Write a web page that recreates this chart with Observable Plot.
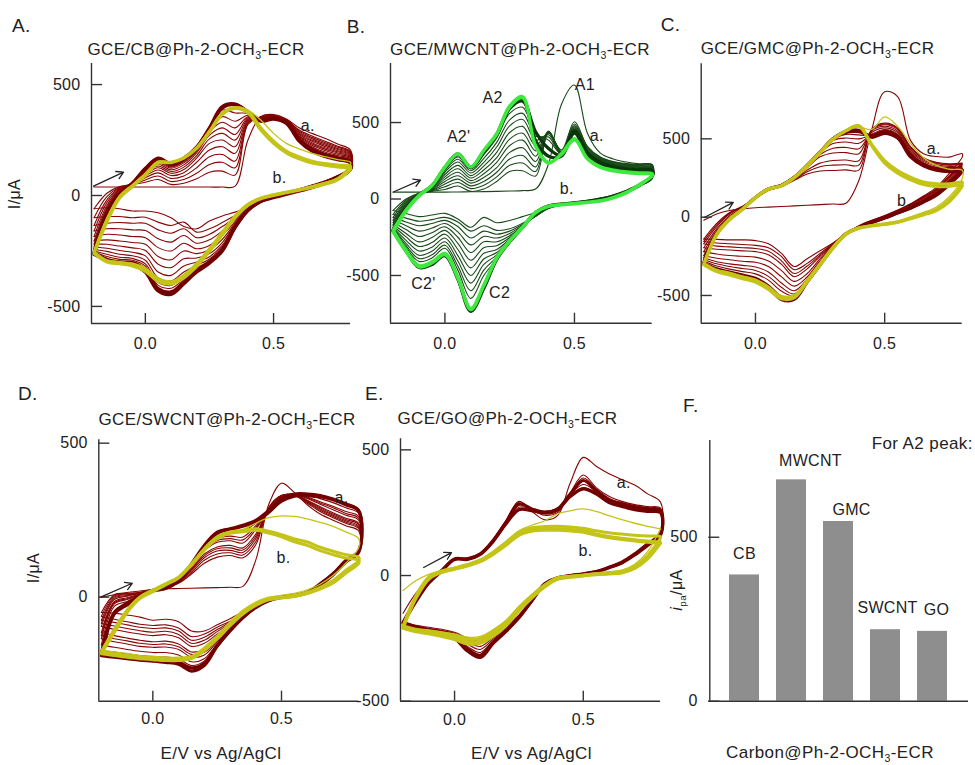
<!DOCTYPE html>
<html><head><meta charset="utf-8">
<script src="https://cdn.jsdelivr.net/npm/d3@7"></script>
<script src="https://cdn.jsdelivr.net/npm/@observablehq/plot@0.6"></script>
<style>
body{margin:0;background:#fff;}
#fig{position:relative;width:975px;height:765px;overflow:hidden;background:#fff;font-family:"Liberation Sans",Arial,Helvetica,sans-serif;color:#222;}
#fig svg{position:absolute;left:0;top:0;}
.t{position:absolute;white-space:nowrap;line-height:1;letter-spacing:0.4px;}
.s{font-size:0.62em;position:relative;top:0.38em;}
</style></head><body><div id="fig"></div>
<script>
// ---------- shared potential grid (V vs Ag/AgCl) ----------
const E = [-0.2,-0.15,-0.1,-0.05,0,0.05,0.1,0.15,0.2,0.25,0.3,0.35,0.4,0.45,0.5,0.55,0.6,0.65,0.7,0.75,0.8];
const X_TICKS = [0, 0.5];

// ---------- Panel A: GCE/CB ----------
const A_first_fwd = [[38,38,38,38,38,38,38,38,38,38,38,42,250,355,365,345,305,280,258,232,205]];
const A_first_rev = [[-60,-55,-60,-70,-70,-78,-100,-140,-150,-115,-92,-75,-52,-30,-15,0,15,30,50,75,110]];
const A_mid_fwd = [
 [-60,10,40,50,60,72,50,55,75,105,110,92,320,355,362,342,295,268,245,222,198],
 [-100,-5,37,51,70,88,63,72,100,140,150,125,325,354,361,341,290,262,239,217,194],
 [-135,-20,34,52,80,102,77,88,125,175,185,155,330,352,360,340,285,256,233,212,190],
 [-160,-32,31,52,88,115,90,103,150,205,220,190,335,350,358,339,280,250,227,207,186],
 [-185,-45,28,52,95,125,100,117,168,235,250,220,340,349,357,338,275,244,221,202,182],
 [-205,-55,25,52,100,133,108,128,180,255,280,250,345,347,355,336,270,238,215,197,178],
 [-220,-62,22,52,105,141,116,138,192,272,305,275,350,346,354,335,266,232,209,192,174],
 [-232,-68,19,51,110,148,123,147,200,287,330,305,355,344,353,334,262,226,203,186,170],
 [-242,-72,16,51,113,153,128,153,206,296,355,335,362,343,351,333,259,220,196,180,165],
 [-250,-76,14,50,116,157,132,157,211,302,385,372,370,342,350,332,256,215,190,175,160]];
const A_mid_rev = [
 [-100,-95,-95,-100,-98,-120,-135,-120,-165,-150,-122,-90,-57,-28,-10,5,20,35,53,78,113],
 [-135,-125,-122,-125,-125,-155,-170,-150,-190,-175,-140,-100,-59,-28,-10,5,20,35,53,78,113],
 [-160,-150,-150,-155,-158,-195,-210,-180,-215,-200,-160,-110,-60,-27,-9,6,21,36,54,79,114],
 [-185,-175,-178,-185,-190,-235,-250,-215,-240,-225,-180,-118,-61,-27,-9,6,21,36,54,79,114],
 [-205,-200,-205,-212,-220,-275,-290,-250,-262,-245,-198,-125,-62,-26,-8,7,22,37,55,80,115],
 [-220,-220,-228,-236,-248,-310,-325,-285,-282,-262,-212,-130,-63,-26,-8,7,22,37,55,80,115],
 [-232,-238,-248,-256,-272,-345,-360,-318,-300,-276,-224,-134,-64,-26,-7,8,23,38,56,81,116],
 [-242,-252,-265,-272,-292,-372,-385,-345,-315,-286,-232,-136,-64,-25,-6,9,24,39,57,82,117],
 [-250,-265,-278,-284,-308,-392,-405,-365,-327,-293,-237,-138,-65,-25,-6,9,24,40,58,83,118],
 [-255,-275,-288,-292,-318,-405,-418,-378,-335,-298,-240,-139,-65,-25,-5,10,25,42,60,85,120]];
const A_last_fwd = [
 [-258,-80,10,55,120,165,140,165,215,300,395,410,378,340,348,330,250,208,183,168,153],
 [-265,-90,5,55,122,168,143,168,218,305,400,412,375,335,345,325,245,200,176,162,147]];
const A_last_rev = [
 [-258,-288,-300,-303,-335,-420,-435,-390,-340,-300,-245,-140,-65,-25,-5,10,25,42,60,85,120],
 [-265,-292,-305,-310,-345,-430,-445,-398,-345,-305,-250,-145,-68,-27,-6,9,24,41,59,84,118]];
const A_yel_fwd = [
 [-255,-110,-5,45,95,150,150,170,215,290,370,395,380,305,245,200,174,155,144,137,132],
 [-262,-120,-12,40,90,145,148,168,212,285,365,392,372,295,235,192,165,146,136,128,122]];
const A_yel_rev = [
 [-258,-295,-303,-310,-333,-378,-393,-363,-310,-243,-168,-93,-40,-12,3,15,27,40,55,75,125],
 [-262,-300,-308,-318,-342,-388,-400,-372,-320,-252,-178,-100,-45,-15,0,12,24,36,50,70,118]];
const A_yelthin_fwd = [[-250,-100,0,50,100,155,152,172,218,295,375,400,385,340,280,235,210,190,175,162,150]];
const A_yelthin_rev = [[-250,-290,-298,-305,-325,-370,-385,-355,-302,-235,-160,-88,-35,-8,6,18,30,43,58,80,140]];
const A_notes = [{E:0.633,I:315,t:"a."},{E:0.523,I:81,t:"b."}];
const A_arrow = [{E1:-0.202,I1:42,E2:-0.085,I2:105}];

// ---------- Panel B: GCE/MWCNT ----------
const B_first_fwd = [[45,45,45,45,45,46,47,48,50,52,55,65,230,620,745,430,300,262,242,230,225]];
const B_first_rev = [[-75,-95,-115,-105,-94,-130,-185,-120,-155,-140,-115,-90,-60,-40,-30,-20,-5,15,45,85,135]];
const B_mid_fwd = [
 [-75,0,38,50,62,85,50,65,115,180,185,150,430,320,505,345,275,245,232,226,224],
 [-100,-8,37,53,80,108,68,90,145,220,235,180,435,312,490,340,271,241,228,222,220],
 [-120,-15,35,56,98,130,86,115,175,262,285,210,440,306,480,334,267,237,224,218,216],
 [-138,-22,34,59,115,152,104,140,205,305,335,245,443,300,472,328,263,233,220,214,212],
 [-152,-28,33,62,130,175,120,165,240,350,385,280,445,297,465,322,259,229,216,210,208],
 [-165,-34,31,66,145,198,137,190,270,392,430,315,440,294,458,317,255,225,212,206,204],
 [-175,-40,30,70,160,220,153,215,305,435,475,350,432,292,452,312,251,222,209,203,201],
 [-185,-46,29,74,175,242,170,240,340,478,520,385,420,292,447,308,248,219,206,200,198],
 [-192,-52,28,78,188,260,185,265,370,518,560,410,405,293,443,305,246,216,203,197,195],
 [-198,-58,27,82,198,275,197,290,400,560,600,425,385,295,440,302,244,214,201,195,193]];
const B_mid_rev = [
 [-100,-125,-145,-135,-120,-150,-210,-175,-205,-195,-158,-112,-62,-40,-30,-20,-5,15,45,85,135],
 [-120,-150,-175,-160,-140,-180,-255,-210,-230,-210,-165,-114,-60,-39,-29,-19,-4,16,46,86,136],
 [-138,-175,-210,-190,-160,-215,-300,-245,-255,-225,-170,-112,-58,-38,-29,-19,-4,16,46,86,137],
 [-152,-200,-245,-220,-182,-250,-350,-280,-280,-240,-175,-110,-56,-37,-28,-18,-3,17,47,87,138],
 [-165,-225,-280,-252,-205,-290,-400,-318,-305,-252,-178,-106,-54,-36,-27,-17,-3,17,47,87,139],
 [-175,-248,-310,-285,-230,-330,-450,-355,-330,-262,-180,-102,-52,-35,-27,-17,-2,18,48,88,140],
 [-185,-270,-340,-315,-255,-370,-500,-392,-350,-268,-181,-98,-50,-35,-26,-16,-2,18,48,88,141],
 [-192,-290,-368,-342,-280,-405,-550,-428,-365,-272,-182,-94,-48,-34,-26,-16,-1,19,49,89,142],
 [-198,-305,-390,-365,-302,-438,-600,-465,-380,-275,-182,-91,-46,-34,-25,-15,-1,19,49,89,144],
 [-203,-318,-408,-385,-322,-465,-650,-500,-392,-277,-181,-88,-45,-33,-25,-15,0,20,50,90,146]];
const B_dark_fwd = [
 [-203,-62,26,85,205,290,205,305,420,590,640,440,330,285,445,300,240,210,196,190,188],
 [-205,-66,26,87,208,295,208,312,425,600,655,380,280,280,430,290,232,203,190,184,182]];
const B_dark_rev = [
 [-205,-335,-440,-420,-362,-515,-725,-575,-388,-275,-183,-88,-45,-33,-25,-15,0,20,50,90,150],
 [-210,-340,-448,-428,-370,-525,-735,-585,-395,-280,-186,-90,-47,-34,-26,-16,-1,19,49,88,148]];
const B_lime_fwd = [
 [-203,-70,25,90,211,298,211,320,429,610,670,342,233,298,396,266,211,190,179,172,168],
 [-215,-80,18,85,205,292,208,315,422,600,660,350,240,290,385,260,205,183,172,165,160]];
const B_lime_rev = [
 [-203,-333,-435,-410,-355,-510,-715,-560,-380,-270,-180,-85,-45,-35,-28,-20,-10,12,45,95,155],
 [-215,-345,-445,-420,-365,-520,-725,-570,-390,-278,-188,-92,-50,-40,-32,-24,-14,6,38,88,150]];
const B_notes = [{E:0.54,I:745,t:"A1"},{E:0.184,I:660,t:"A2"},{E:0.053,I:405,t:"A2'"},{E:0.586,I:412,t:"a."},
 {E:0.47,I:65,t:"b."},{E:-0.083,I:-556,t:"C2'"},{E:0.211,I:-614,t:"C2"}];
const B_arrow = [{E1:-0.199,I1:46,E2:-0.094,I2:124}];

// ---------- Panel C: GCE/GMC ----------
const C_first_fwd = [[-20,20,43,53,60,64,68,72,76,80,84,89,234,560,800,770,490,405,387,383,405]];
const C_first_rev = [[-140,-142,-145,-145,-150,-170,-230,-315,-265,-215,-165,-106,-55,-20,10,45,85,135,190,280,383]];
const C_mid_fwd = [
 [-140,-40,30,70,120,170,195,235,275,295,298,302,300,560,600,570,450,380,350,340,345],
 [-155,-50,25,67,120,171,196,238,290,322,332,335,332,558,595,565,445,376,346,336,341],
 [-170,-60,20,65,120,172,198,240,300,345,362,365,360,555,590,560,440,372,342,332,337],
 [-195,-75,10,60,122,175,200,245,315,385,410,412,405,550,580,550,430,364,334,324,330],
 [-220,-85,0,58,124,177,201,250,322,400,440,445,437,540,570,540,420,356,326,316,322],
 [-245,-95,-5,56,125,178,202,252,326,410,470,480,472,530,560,530,410,348,318,308,315],
 [-258,-98,-7,55,126,179,202,253,327,412,490,505,500,525,555,525,405,344,314,304,311],
 [-270,-100,-8,55,126,179,202,253,328,413,500,528,525,520,550,520,400,340,310,300,308]];
const C_mid_rev = [
 [-155,-165,-170,-175,-180,-195,-250,-335,-295,-232,-168,-108,-58,-22,8,42,82,130,180,265,345],
 [-170,-185,-190,-195,-200,-218,-278,-360,-312,-242,-172,-108,-59,-23,7,41,80,128,176,258,341],
 [-195,-205,-210,-215,-220,-240,-300,-380,-330,-250,-175,-108,-60,-24,6,40,78,125,172,250,337],
 [-220,-235,-245,-250,-255,-280,-340,-410,-360,-265,-180,-108,-62,-26,4,37,74,120,165,240,330],
 [-245,-262,-272,-282,-288,-315,-380,-440,-382,-278,-184,-108,-64,-28,2,34,70,115,160,232,322],
 [-258,-285,-298,-308,-318,-350,-420,-470,-395,-288,-187,-107,-65,-30,0,32,66,110,155,225,315],
 [-270,-298,-315,-328,-340,-378,-448,-490,-402,-292,-189,-106,-66,-31,-1,31,64,107,152,222,311],
 [-282,-312,-332,-348,-362,-402,-472,-502,-406,-296,-190,-106,-66,-32,-2,30,62,105,150,220,308]];
const C_last_fwd = [
 [-290,-105,-10,54,126,180,202,254,330,415,500,540,545,520,545,515,395,335,305,296,302],
 [-296,-108,-12,52,125,180,202,254,330,415,500,548,555,510,535,505,385,328,300,290,296]];
const C_last_rev = [
 [-295,-330,-350,-370,-390,-440,-510,-515,-410,-300,-192,-106,-67,-34,-4,28,60,100,145,215,300],
 [-300,-338,-358,-380,-402,-452,-525,-525,-415,-305,-195,-107,-68,-35,-6,26,57,96,140,208,292]];
const C_yel_fwd = [
 [-298,-106,-11,53,128,181,202,255,330,415,500,553,585,465,362,298,255,224,213,213,224],
 [-305,-115,-18,48,122,176,198,250,324,410,495,550,580,455,345,280,238,208,196,196,205]];
const C_yel_rev = [
 [-298,-340,-360,-383,-404,-450,-511,-505,-405,-298,-192,-106,-68,-53,-43,-30,-5,20,50,110,213],
 [-305,-348,-370,-393,-415,-462,-522,-515,-415,-308,-200,-112,-72,-57,-47,-34,-10,14,42,98,198]];
const C_yelthin_fwd = [[-290,-100,-5,58,132,185,205,258,333,418,503,555,575,560,640,580,470,380,330,305,300]];
const C_yelthin_rev = [[-290,-333,-352,-375,-396,-440,-500,-495,-395,-290,-185,-100,-64,-49,-38,-24,2,30,65,130,245]];
const C_notes = [{E:0.69,I:439,t:"a."},{E:0.575,I:107,t:"b."}];
const C_arrow = [{E1:-0.198,I1:-2,E2:-0.086,I2:94}];

// ---------- Panel D: GCE/SWCNT ----------
const D_first_fwd = [[0,8,15,20,25,27,28,29,30,31,32,35,120,300,370,340,300,270,250,232,215]];
const D_first_rev = [[-50,-52,-58,-65,-75,-72,-80,-110,-110,-90,-70,-48,-28,-11,0,5,16,43,76,119,150]];
const D_mid_fwd = [
 [-50,8,12,16,24,32,45,75,110,130,135,128,170,290,330,330,305,278,258,240,222],
 [-62,4,10,15,24,32,48,80,120,140,144,137,180,290,330,331,308,282,262,244,226],
 [-75,0,8,14,24,33,50,85,128,150,152,145,190,290,330,332,310,286,266,248,230],
 [-85,-4,5,13,23,34,51,89,134,157,160,153,198,288,329,333,313,290,270,252,235],
 [-95,-8,3,12,23,34,52,92,140,163,168,160,205,285,328,334,315,294,274,256,240],
 [-115,-15,-2,10,22,34,53,98,150,178,183,176,220,282,325,335,320,302,284,266,250],
 [-125,-19,-5,9,22,34,54,100,154,184,190,186,226,281,323,335,323,306,290,272,256],
 [-135,-22,-8,8,22,34,54,102,157,190,198,195,232,280,322,335,325,310,295,278,262],
 [-155,-30,-14,5,22,32,54,105,162,200,210,215,240,280,320,335,330,320,307,290,272]];
const D_mid_rev = [
 [-62,-72,-80,-88,-92,-90,-100,-128,-120,-98,-78,-54,-30,-11,0,5,16,43,76,119,151],
 [-75,-82,-90,-98,-102,-100,-110,-140,-130,-105,-82,-56,-30,-11,0,5,16,43,76,119,151],
 [-85,-94,-102,-109,-114,-111,-121,-150,-140,-112,-86,-58,-31,-11,0,5,16,43,76,119,151],
 [-95,-105,-113,-120,-125,-122,-132,-160,-150,-120,-90,-60,-31,-11,0,5,16,43,76,119,151],
 [-115,-125,-133,-140,-145,-143,-152,-178,-170,-135,-97,-62,-32,-11,0,5,16,43,76,119,151],
 [-125,-135,-142,-150,-154,-152,-161,-186,-179,-140,-100,-62,-32,-11,0,5,16,43,76,119,151],
 [-135,-145,-152,-160,-163,-162,-170,-195,-188,-145,-102,-63,-32,-11,0,5,16,43,76,119,151],
 [-155,-163,-170,-176,-180,-180,-188,-210,-200,-152,-105,-64,-32,-11,0,5,16,43,76,119,151],
 [-175,-178,-185,-190,-193,-195,-200,-222,-208,-155,-107,-65,-32,-11,0,5,16,43,76,119,151]];
const D_last_fwd = [
 [-184,-50,-20,2,22,30,54,108,168,211,222,233,249,281,319,335,335,330,319,303,281],
 [-190,-55,-25,0,20,28,52,105,165,208,220,230,245,275,312,328,330,326,316,300,280]];
const D_last_rev = [
 [-184,-189,-195,-200,-203,-206,-211,-230,-215,-157,-108,-65,-32,-11,0,5,16,43,76,119,151],
 [-190,-195,-200,-205,-208,-212,-218,-240,-222,-160,-110,-67,-34,-12,-1,4,14,40,72,114,146]];
const D_yel_fwd = [
 [-178,-108,-43,0,22,43,65,108,157,195,211,216,222,214,203,189,179,162,149,138,130],
 [-184,-115,-50,-5,18,40,62,104,152,190,207,212,217,208,196,180,168,151,138,127,120]];
const D_yel_rev = [
 [-178,-184,-189,-195,-197,-200,-200,-195,-168,-130,-87,-49,-22,-5,0,5,16,32,54,87,119],
 [-184,-190,-195,-200,-203,-206,-206,-200,-174,-136,-93,-55,-27,-9,-3,2,12,26,46,78,110]];
const D_yelthin_fwd = [[-172,-100,-38,4,26,46,68,111,160,198,214,220,240,258,264,262,254,243,230,212,190]];
const D_yelthin_rev = [[-172,-178,-183,-190,-192,-195,-195,-190,-162,-124,-80,-42,-16,0,6,12,24,42,70,110,160]];
const D_notes = [{E:0.733,I:324,t:"a."},{E:0.508,I:129,t:"b."}];
const D_arrow = [{E1:-0.203,I1:0,E2:-0.08,I2:45}];

// ---------- Panel E: GCE/GO ----------
const E_first_fwd = [[-150,-70,-15,22,64,68,84,135,205,285,255,222,238,370,470,435,405,382,360,325,292]];
const E_first_rev = [[-186,-198,-206,-214,-226,-248,-262,-235,-200,-158,-96,-33,-9,0,7,16,33,53,86,126,170]];
const E_mid_fwd = [
 [-186,-90,-22,22,68,70,88,145,220,295,262,240,250,330,400,350,315,295,282,274,268],
 [-186,-94,-24,21,67,69,87,142,216,288,262,245,256,328,388,345,308,290,278,270,264],
 [-186,-97,-26,20,66,67,86,140,213,280,264,250,262,326,375,340,303,286,274,267,261],
 [-186,-99,-27,20,66,66,86,139,211,272,265,253,265,322,362,335,298,282,270,263,258],
 [-186,-102,-29,19,65,65,85,137,208,265,262,255,266,318,350,330,294,278,266,259,254]];
const E_mid_rev = [
 [-186,-200,-210,-218,-230,-255,-270,-240,-205,-160,-97,-33,-9,0,7,16,33,53,86,126,166],
 [-186,-202,-212,-220,-233,-263,-282,-247,-209,-161,-97,-33,-9,0,7,16,33,53,86,126,166],
 [-186,-203,-214,-223,-237,-272,-294,-253,-212,-162,-98,-33,-9,0,7,16,33,53,86,126,166],
 [-186,-204,-216,-226,-241,-282,-306,-259,-216,-164,-98,-33,-9,0,7,16,33,53,86,126,166],
 [-186,-205,-218,-228,-244,-288,-313,-262,-218,-165,-99,-33,-9,0,7,16,33,53,86,126,166]];
const E_last_fwd = [
 [-186,-99,-27,20,66,66,86,139,212,285,265,252,265,325,378,338,301,285,272,265,259],
 [-190,-104,-30,18,64,64,84,136,206,262,258,250,262,315,345,325,290,275,262,255,250]];
const E_last_rev = [
 [-186,-205,-219,-229,-245,-292,-318,-265,-219,-165,-99,-33,-9,0,7,16,33,53,86,126,166],
 [-190,-208,-222,-232,-250,-300,-326,-270,-222,-168,-101,-35,-10,-1,6,15,31,50,82,120,160]];
const E_yel_fwd = [
 [-205,-86,-10,15,27,40,58,88,126,166,183,187,186,183,179,165,155,148,142,137,133],
 [-210,-92,-15,12,25,38,55,84,120,160,176,180,180,177,172,160,150,143,137,132,128],
 [-200,-80,-5,18,30,44,62,93,132,172,190,195,196,193,188,178,170,165,160,157,155]];
const E_yel_rev = [
 [-205,-219,-225,-235,-245,-262,-260,-232,-192,-135,-85,-42,-12,-5,0,5,8,13,33,73,133],
 [-210,-224,-232,-243,-255,-272,-270,-242,-200,-142,-90,-46,-15,-7,-2,3,6,10,28,66,128],
 [-200,-214,-220,-228,-238,-252,-250,-222,-184,-128,-80,-38,-9,-3,2,7,11,17,38,80,150]];
const E_yelthin_fwd = [[-60,-20,5,20,32,46,64,96,136,178,200,218,245,258,265,255,238,222,208,196,186]];
const E_yelthin_rev = [[-200,-212,-218,-225,-232,-245,-242,-215,-178,-122,-75,-35,-6,0,5,10,15,22,45,95,186]];
const E_notes = [{E:0.657,I:370,t:"a."},{E:0.509,I:99,t:"b."}];
const E_arrow = [{E1:-0.12,I1:32,E2:-0.012,I2:91}];

// ---------- Panel F: A2 peak currents ----------
const F_cats = ["CB","MWCNT","GMC","SWCNT","GO"];
const F_vals = [385, 675, 548, 218, 213];

// ---------- drawing ----------
const FONT = '"Liberation Sans", Arial, Helvetica, sans-serif';
const RED = "#870505", RED_D = "#720000", YEL = "#c4c418", DKG = "#184a18", DKG_D = "#0a360a", LIME = "#3ee83e", AX = "#333";
const X_DOMAIN = [-0.21, 0.8];
const fig = document.getElementById("fig");

function loops(fwd, rev, tag) {
  const rows = [];
  fwd.forEach((f, c) => {
    const r = rev[c];
    f.forEach((v, i) => rows.push({E: E[i], I: v, id: tag + c}));
    for (let i = r.length - 1; i >= 0; i--) rows.push({E: E[i], I: r[i], id: tag + c});
  });
  return rows;
}
const baseStyle = {background: "transparent", overflow: "visible", fontFamily: FONT, fontSize: "16px", color: "#222", letterSpacing: "0.3px"};

function cv(p) {
  const [l, t, r, b] = p.frame, pw = r - l, ph = b - t;
  const marks = p.layers.map(L => Plot.line(loops(L.fwd, L.rev, L.tag),
    {x: "E", y: "I", z: "id", stroke: L.color, strokeWidth: L.w, curve: "catmull-rom"}));
  marks.push(
    Plot.ruleX([X_DOMAIN[0]], {stroke: AX, strokeWidth: 1.4}),
    Plot.ruleY([p.yDomain[0]], {stroke: AX, strokeWidth: 1.4}),
    Plot.ruleX(X_TICKS, {stroke: AX, strokeWidth: 1.4, insetTop: ph - 10}),
    Plot.ruleY(p.yTicks, {stroke: AX, strokeWidth: 1.4, insetRight: pw - 11}),
    Plot.axisX(X_TICKS, {tickSize: 0, tickPadding: p.xPad, tickFormat: d3.format(".1f"), label: null}),
    Plot.axisY(p.yTicks, {tickSize: 0, tickPadding: 11, tickFormat: d => String(d), label: null}),
    Plot.text(p.notes, {x: "E", y: "I", text: "t", fontSize: 16}),
    Plot.arrow(p.arrow, {x1: "E1", y1: "I1", x2: "E2", y2: "I2", stroke: "#222", strokeWidth: 1.3, headLength: 9})
  );
  return Plot.plot({
    width: 975, height: 765,
    marginLeft: l, marginRight: 975 - r, marginTop: t, marginBottom: 765 - b,
    style: baseStyle,
    x: {domain: X_DOMAIN},
    y: {domain: p.yDomain},
    marks
  });
}

const panels = [
  {frame: [91, 63, 350, 323], yDomain: [-577, 595], yTicks: [-500, 0, 500], xPad: 14, notes: A_notes, arrow: A_arrow,
   layers: [
     {tag: "f", fwd: A_first_fwd, rev: A_first_rev, color: RED, w: 1.1},
     {tag: "m", fwd: A_mid_fwd, rev: A_mid_rev, color: RED, w: 1.1},
     {tag: "l", fwd: A_last_fwd, rev: A_last_rev, color: RED_D, w: 3.4},
     {tag: "y", fwd: A_yel_fwd, rev: A_yel_rev, color: YEL, w: 3},
     {tag: "t", fwd: A_yelthin_fwd, rev: A_yelthin_rev, color: YEL, w: 1.3}]},
  {frame: [390, 63, 651.7, 322.7], yDomain: [-812, 886], yTicks: [-500, 0, 500], xPad: 14, notes: B_notes, arrow: B_arrow,
   layers: [
     {tag: "f", fwd: B_first_fwd, rev: B_first_rev, color: DKG, w: 1.1},
     {tag: "m", fwd: B_mid_fwd, rev: B_mid_rev, color: DKG, w: 1.1},
     {tag: "d", fwd: B_dark_fwd, rev: B_dark_rev, color: DKG_D, w: 3.2},
     {tag: "l", fwd: B_lime_fwd, rev: B_lime_rev, color: LIME, w: 3}]},
  {frame: [700.7, 63.3, 961.7, 322.7], yDomain: [-677, 979], yTicks: [-500, 0, 500], xPad: 14, notes: C_notes, arrow: C_arrow,
   layers: [
     {tag: "f", fwd: C_first_fwd, rev: C_first_rev, color: RED, w: 1.1},
     {tag: "m", fwd: C_mid_fwd, rev: C_mid_rev, color: RED, w: 1.1},
     {tag: "l", fwd: C_last_fwd, rev: C_last_rev, color: RED_D, w: 3.2},
     {tag: "y", fwd: C_yel_fwd, rev: C_yel_rev, color: YEL, w: 3},
     {tag: "t", fwd: C_yelthin_fwd, rev: C_yelthin_rev, color: YEL, w: 1.3}]},
  {frame: [98.3, 439.3, 358.2, 700.7], yDomain: [-338, 511], yTicks: [0, 500], xPad: 11, notes: D_notes, arrow: D_arrow,
   layers: [
     {tag: "f", fwd: D_first_fwd, rev: D_first_rev, color: RED, w: 1.1},
     {tag: "m", fwd: D_mid_fwd, rev: D_mid_rev, color: RED, w: 1.1},
     {tag: "l", fwd: D_last_fwd, rev: D_last_rev, color: RED_D, w: 3.2},
     {tag: "y", fwd: D_yel_fwd, rev: D_yel_rev, color: YEL, w: 3},
     {tag: "t", fwd: D_yelthin_fwd, rev: D_yelthin_rev, color: YEL, w: 1.3}]},
  {frame: [400, 438.3, 660, 700.7], yDomain: [-500, 544], yTicks: [-500, 0, 500], xPad: 12, notes: E_notes, arrow: E_arrow,
   layers: [
     {tag: "f", fwd: E_first_fwd, rev: E_first_rev, color: RED, w: 1.1},
     {tag: "m", fwd: E_mid_fwd, rev: E_mid_rev, color: RED, w: 1.1},
     {tag: "l", fwd: E_last_fwd, rev: E_last_rev, color: RED_D, w: 3.2},
     {tag: "y", fwd: E_yel_fwd, rev: E_yel_rev, color: YEL, w: 3},
     {tag: "t", fwd: E_yelthin_fwd, rev: E_yelthin_rev, color: YEL, w: 1.3}]}
];
panels.forEach(p => fig.appendChild(cv(p)));

// Panel F bar chart
{
  const l = 708.3, t = 440, r = 968, b = 700.7, pw = r - l;
  const rows = F_cats.map((c, i) => ({c, v: F_vals[i]}));
  const labelOffsets = [[0, -21], [19, -19], [13, -12], [2, -22], [4, -21]];
  fig.appendChild(Plot.plot({
    width: 975, height: 765,
    marginLeft: l, marginRight: 975 - r, marginTop: t, marginBottom: 765 - b,
    style: baseStyle,
    x: {domain: F_cats, paddingInner: 0.368, paddingOuter: 0.421, axis: null},
    y: {domain: [0, 795]},
    marks: [
      Plot.barY(rows, {x: "c", y: "v", fill: "#8e8e8e"}),
      ...rows.map((d, i) => Plot.text([d], {x: "c", y: "v", text: "c", dx: labelOffsets[i][0], dy: labelOffsets[i][1], fontSize: 16})),
      Plot.ruleY([0], {stroke: AX, strokeWidth: 1.4}),
      Plot.ruleX([F_cats[0]], {stroke: AX, strokeWidth: 1.4, dx: -34.7}),
      Plot.ruleY([0, 500], {stroke: AX, strokeWidth: 1.4, insetRight: pw - 11}),
      Plot.axisY([0, 500], {tickSize: 0, tickPadding: 11, tickFormat: d => String(d), label: null})
    ]
  }));
}

// ---------- text ----------
function label(html, x, y, {size = 17, anchor = "middle", rotate = 0} = {}) {
  const d = document.createElement("div");
  d.className = "t";
  d.innerHTML = html;
  const tx = anchor === "start" ? "0" : "-50%";
  d.style.left = x + "px";
  d.style.top = y + "px";
  d.style.fontSize = size + "px";
  d.style.transform = `translate(${tx},-50%) rotate(${rotate}deg)`;
  fig.appendChild(d);
}
const OCH3 = 'OCH<span class="s">3</span>';
label("A.", 12, 25, {size: 19, anchor: "start"});
label("B.", 346.7, 26, {size: 19, anchor: "start"});
label("C.", 660.7, 24, {size: 19, anchor: "start"});
label("D.", 18, 392.5, {size: 19, anchor: "start"});
label("E.", 365, 392.5, {size: 19, anchor: "start"});
label("F.", 683, 405, {size: 19, anchor: "start"});
label(`GCE/CB@Ph-2-${OCH3}-ECR`, 196, 48.5);
label(`GCE/MWCNT@Ph-2-${OCH3}-ECR`, 520, 49);
label(`GCE/GMC@Ph-2-${OCH3}-ECR`, 817.5, 48);
label(`GCE/SWCNT@Ph-2-${OCH3}-ECR`, 227, 419);
label(`GCE/GO@Ph-2-${OCH3}-ECR`, 507.5, 417.5);
label("I/μA", 14.5, 194, {size: 16, rotate: -90});
label("I/μA", 33.5, 568, {size: 16, rotate: -90});
label('<i>i</i><span class="s">pa</span>/μA', 676.5, 590, {size: 16, rotate: -90});
label("E/V vs Ag/AgCl", 221, 753);
label("E/V vs Ag/AgCl", 531.5, 753);
label(`Carbon@Ph-2-${OCH3}-ECR`, 830, 752);
label("For A2 peak:", 871.7, 443, {anchor: "start"});
</script>
</body></html>
